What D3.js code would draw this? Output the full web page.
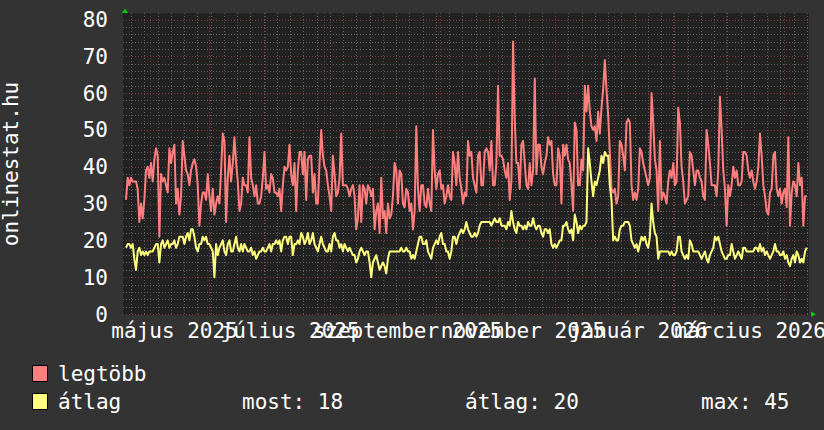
<!DOCTYPE html>
<html>
<head>
<meta charset="utf-8">
<script src="https://cdnjs.cloudflare.com/ajax/libs/d3/7.8.5/d3.min.js"></script>
<style>
  body { margin: 0; background: #333333; }
  svg { display: block; }
  text { font-family: "DejaVu Sans Mono", monospace; fill: #ffffff; }
</style>
</head>
<body>
<div id="vis"></div>
<script>
// daily values (left to right)
var legtobb = [
  31,37,35,37,36,36,36,34,25,30, 26,31,39,40,37,41,36,42,45,43,
  21,38,36,37,35,33,45,41,44,46, 30,34,27,32,47,43,39,38,35,39,
  41,42,40,35,24,30,33,33,31,38, 32,28,34,27,30,32,30,39,49,47,
  25,37,43,36,41,48,41,36,28,30, 37,35,35,33,48,37,35,32,35,30,
  30,32,37,44,34,35,33,38,37,33, 33,32,34,28,35,40,39,40,46,38,
  35,41,28,39,44,44,38,44,31,42, 43,43,33,38,30,30,41,50,43,40,
  39,35,32,28,43,38,32,33,37,49, 35,35,35,34,32,34,35,32,23,26,
  35,25,35,34,30,35,34,32,34,23, 28,30,22,37,26,28,22,30,26,27,
  32,41,39,30,39,38,30,29,34,33, 28,30,23,28,51,34,28,35,35,30,
  29,34,30,28,50,39,34,38,39,34, 35,30,32,35,32,31,44,41,35,44,
  37,34,30,33,32,47,43,44,37,35, 33,43,44,35,35,44,45,44,39,47,
  35,35,41,62,43,43,42,39,37,41, 31,36,74,53,41,41,34,46,47,41,
  35,34,41,35,39,64,38,46,46,40, 38,41,43,48,46,47,38,35,35,45,
  43,30,46,43,46,42,41,35,28,52, 50,35,35,42,39,62,55,62,
  55,51,50,51,47,55,49,56,61,69, 61,54,44,34,33,34,30,32,47,46,
  43,39,52,53,52,35,31,33,31,34, 45,44,41,39,37,35,37,60,52,42,
  39,28,47,31,33,32,30,36,39,37, 41,35,36,56,52,40,36,30,31,32,
  44,43,39,35,39,39,37,36,32,31, 50,46,41,35,35,35,32,39,59,50,
  39,34,24,35,32,35,40,37,39,35, 35,36,44,44,43,39,37,39,36,34,
  36,40,49,43,35,32,28,27,33,34, 43,44,34,32,34,30,33,34,29,48,
  24,33,36,35,32,41,35,37,24,32, 32
];

var atlag = [
  18,19,19,18,19,15,12,17,18,16, 17,16,17,16,17,17,17,18,19,19,
  14,19,20,18,19,20,18,19,19,20, 18,19,21,21,21,19,21,22,20,23,
  23,21,18,17,19,19,21,20,21,19, 19,18,17,10,19,16,18,19,20,17,
  16,19,20,17,17,19,21,18,17,19, 17,19,18,17,17,18,16,17,15,16,
  17,17,18,17,17,18,19,17,19,19, 20,19,20,17,20,21,21,19,21,21,
  16,19,19,20,19,22,21,19,20,22, 19,20,22,19,18,17,19,21,19,18,
  17,17,19,17,21,22,20,20,18,19, 17,19,18,17,18,17,16,16,14,15,
  17,18,17,16,17,17,14,10,14,15, 16,14,12,13,14,13,11,15,17,17,
  17,17,17,17,17,18,17,17,18,17, 17,15,16,15,17,19,21,21,19,19,
  20,17,16,15,18,19,20,19,21,22, 19,19,17,17,15,17,21,21,19,21,
  22,23,22,23,25,23,22,21,21,22, 21,22,24,25,25,25,25,25,25,24,
  25,26,25,25,26,24,24,24,23,25, 24,28,25,23,22,25,24,24,23,24,
  23,25,24,24,26,24,23,24,24,22, 21,23,23,22,23,19,18,19,18,19,
  20,20,24,24,25,23,22,23,20,27, 25,22,24,23,24,24,25,45,
  41,36,32,36,35,37,39,43,41,44, 43,43,35,31,20,21,20,20,23,24,
  24,25,25,25,24,20,19,18,19,17, 19,21,20,21,19,18,21,30,25,22,
  21,15,17,17,17,17,17,17,16,17, 16,16,17,21,21,17,16,15,16,15,
  20,19,17,17,17,17,16,15,16,17, 15,14,16,17,18,21,20,21,19,17,
  16,15,15,16,16,19,17,15,16,17, 16,15,18,18,17,17,17,17,17,18,
  18,17,19,17,18,16,17,16,15,16, 17,19,17,17,16,16,17,15,16,14,
  13,15,16,14,17,16,14,15,14,17, 18
];

var yTicks = [0, 10, 20, 30, 40, 50, 60, 70, 80];
var monthLabels = ["május 2025", "július 2025", "szeptember 2025",
                   "november 2025", "január 2026", "március 2026"];
var labelDates = [new Date(2025, 4, 14), new Date(2025, 6, 14), new Date(2025, 8, 14),
                  new Date(2025, 10, 14), new Date(2026, 0, 14), new Date(2026, 2, 14)];
var seriesNames = ["legtöbb", "átlag"];
var seriesColors = ["#ff7f7f", "#ffff7f"];
var statLabels = ["most: 18", "átlag: 20", "max: 45"];

var width = 824, height = 430;
var plot = { left: 123, right: 809, top: 13, bottom: 315 };

var svg = d3.select("#vis").append("svg")
    .attr("width", width)
    .attr("height", height);

svg.append("rect").attr("width", width).attr("height", height).attr("fill", "#333333");
svg.append("rect")
    .attr("x", plot.left).attr("y", plot.top)
    .attr("width", plot.right - plot.left).attr("height", plot.bottom - plot.top)
    .attr("fill", "#222222");

// scales
var y = d3.scaleLinear().domain([0, 80]).range([314, 19.5]);
var xt = d3.scaleTime()
    .domain([new Date(2025, 3, 16, 18), new Date(2026, 3, 14, 2)])
    .range([plot.left, plot.right]);
var xi = d3.scaleLinear().domain([0, legtobb.length - 1]).range([126, 806.7]);

// grid
var grid = svg.append("g").attr("class", "grid");
var minorY = d3.range(0, 81, 2).filter(function(d) { return d % 10 !== 0; });
grid.selectAll(".hminor").data(minorY).enter().append("line")
    .attr("x1", plot.left).attr("x2", plot.right)
    .attr("y1", function(d) { return Math.round(y(d)) + 0.5; })
    .attr("y2", function(d) { return Math.round(y(d)) + 0.5; })
    .attr("stroke", "#5e5e5e").attr("stroke-dasharray", "1,2");
grid.selectAll(".vminor").data(xt.ticks(d3.timeMonday)).enter().append("line")
    .attr("x1", function(d) { return Math.round(xt(d)) + 0.5; })
    .attr("x2", function(d) { return Math.round(xt(d)) + 0.5; })
    .attr("y1", plot.top).attr("y2", plot.bottom)
    .attr("stroke", "#5e5e5e").attr("stroke-dasharray", "1,2");
grid.selectAll(".hmajor").data(yTicks).enter().append("line")
    .attr("x1", plot.left).attr("x2", plot.right)
    .attr("y1", function(d) { return Math.round(y(d)) + 0.5; })
    .attr("y2", function(d) { return Math.round(y(d)) + 0.5; })
    .attr("stroke", "#7a3a3a").attr("stroke-dasharray", "1,2");
grid.selectAll(".vmajor").data(xt.ticks(d3.timeMonth)).enter().append("line")
    .attr("x1", function(d) { return Math.round(xt(d)) + 0.5; })
    .attr("x2", function(d) { return Math.round(xt(d)) + 0.5; })
    .attr("y1", plot.top).attr("y2", plot.bottom)
    .attr("stroke", "#7a3a3a").attr("stroke-dasharray", "1,2");

// lines
var line = d3.line()
    .x(function(d, i) { return xi(i); })
    .y(function(d) { return y(d); });

[legtobb, atlag].forEach(function(s, k) {
    svg.append("path")
        .datum(s)
        .attr("fill", "none")
        .attr("stroke", seriesColors[k])
        .attr("stroke-width", 2)
        .attr("stroke-linejoin", "round")
        .attr("d", line);
});

// axis arrows
svg.append("path").attr("d", "M122,13 L128,13 L125,8.5 Z").attr("fill", "#00cc00");
svg.append("path").attr("d", "M811,311.5 L811,317 L816,314.25 Z").attr("fill", "#00cc00");

// y labels
svg.selectAll(".ylab").data(yTicks).enter().append("text")
    .attr("x", 108)
    .attr("y", function(d) { return y(d); })
    .attr("dy", "0.36em")
    .attr("text-anchor", "end")
    .style("font-size", "21px")
    .text(function(d) { return d; });

// x labels
svg.selectAll(".xlab").data(monthLabels).enter().append("text")
    .attr("x", function(d, i) { return xt(labelDates[i]); })
    .attr("y", 338)
    .attr("text-anchor", "middle")
    .style("font-size", "21px")
    .text(function(d) { return d; });

// vertical title
svg.append("text")
    .attr("transform", "translate(18,164) rotate(-90)")
    .attr("text-anchor", "middle")
    .style("font-size", "21px")
    .text("onlinestat.hu");

// legend
seriesNames.forEach(function(name, k) {
    var by = 365 + k * 28;
    svg.append("rect")
        .attr("x", 32.5).attr("y", by + 0.5)
        .attr("width", 15).attr("height", 16)
        .attr("fill", seriesColors[k])
        .attr("stroke", "#000").attr("stroke-width", 1);
    svg.append("text")
        .attr("x", 58).attr("y", by + 15.5)
        .style("font-size", "21px")
        .text(name);
});
var statX = [242, 465, 701];
statLabels.forEach(function(t, k) {
    svg.append("text")
        .attr("x", statX[k]).attr("y", 393 + 15.5)
        .style("font-size", "21px")
        .text(t);
});
</script>
</body>
</html>
